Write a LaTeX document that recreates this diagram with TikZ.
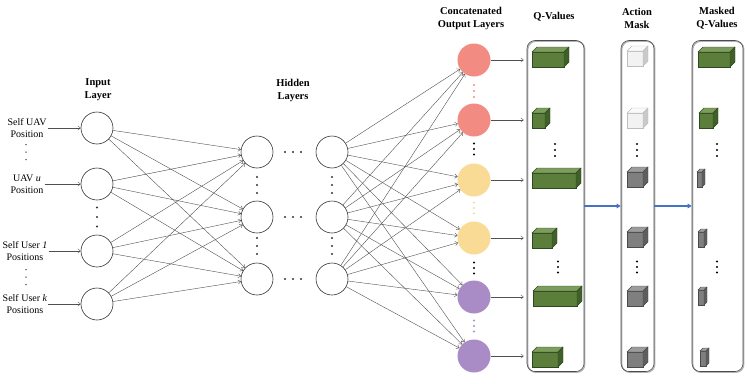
\documentclass[tikz,border=0pt]{standalone}
\usepackage{fontspec}
\setmainfont{Liberation Serif}
\usetikzlibrary{arrows.meta}
\definecolor{outred}{HTML}{F28B82}
\definecolor{outyellow}{HTML}{F9DB95}
\definecolor{outpurple}{HTML}{A98BC6}
\definecolor{linkgray}{HTML}{505050}
\definecolor{maskblue}{HTML}{4472C4}
\definecolor{qgreenF}{HTML}{5B7F3A}
\definecolor{qgreenT}{HTML}{7D9D5C}
\definecolor{qgreenS}{HTML}{405F29}
\definecolor{qgreenE}{HTML}{2E4820}
\definecolor{mgrayF}{HTML}{7F7F7F}
\definecolor{mgrayT}{HTML}{9C9C9C}
\definecolor{mgrayS}{HTML}{5E5E5E}
\definecolor{mgrayE}{HTML}{4A4A4A}
\definecolor{mwhiteF}{HTML}{F2F2F2}
\definecolor{mwhiteT}{HTML}{FAFAFA}
\definecolor{mwhiteS}{HTML}{C9C9C9}
\definecolor{mwhiteE}{HTML}{BDBDBD}
\newcommand{\cuboid}[6]{%
  \filldraw[fill=#6F,draw=#6E,line width=0.4pt] (#1,#2) rectangle ++(#3,#4);
  \filldraw[fill=#6T,draw=#6E,line width=0.4pt] (#1,#2) -- ++(#5,-#5) -- ++(#3,0) -- ++(-#5,#5) -- cycle;
  \filldraw[fill=#6S,draw=#6E,line width=0.4pt] (#1+#3,#2) -- ++(#5,-#5) -- ++(0,#4) -- ++(-#5,#5) -- cycle;}
\newcommand{\dotstack}[5][1.1pt]{%
  \foreach \dy in {-#5,0,#5} \fill[#2] (#3,#4+\dy) circle (#1);}
\begin{document}
\begin{tikzpicture}[x=1pt,y=-1pt,
  neuron/.style={circle,draw=black!80,line width=0.6pt,minimum size=32pt,inner sep=0pt},
  outneuron/.style={circle,fill=#1,minimum size=33pt,inner sep=0pt},
  inlabel/.style={align=center,font=\fontsize{10}{11.5}\selectfont,inner sep=1pt},
  headlabel/.style={align=center,font=\bfseries\fontsize{10.5}{13}\selectfont,inner sep=0pt},
  link/.style={draw=linkgray,line width=0.4pt,-{To[length=3pt,width=4.5pt]}},
  valuebox/.style={draw=black!70,rounded corners=8pt,line width=0.6pt,minimum width=#1,
    minimum height=331pt,inner sep=0pt,
    preaction={draw=black!30,line width=1.3pt,transform canvas={xshift=0.8pt,yshift=-0.8pt}}},
  maskarrow/.style={draw=maskblue,line width=1.2pt,-{Triangle[length=4pt,width=4.5pt]}}]
  \useasboundingbox (0,0) rectangle (747,383);

  \node[headlabel] (inhead) at (98,90) {Input\\Layer};
  \node[headlabel] (hidhead) at (293,90) {Hidden\\Layers};
  \node[headlabel] (outhead) at (471,18) {Concatenated\\Output Layers};
  \node[headlabel] (qhead) at (554,17) {Q-Values};
  \node[headlabel] (maskhead) at (637,18) {Action\\Mask};
  \node[headlabel] (mqhead) at (717,18) {Masked\\Q-Values};

  \foreach \n/\y in {1/128,2/184,3/251,4/304} \node[neuron] (in\n) at (97,\y) {};
  \node[inlabel] (lab1) at (27,128) {Self UAV\\Position};
  \node[inlabel] (lab2) at (27,184) {UAV \textit{u}\\Position};
  \node[inlabel] (lab3) at (25,251) {Self User \textit{1}\\Positions};
  \node[inlabel] (lab4) at (25,304) {Self User \textit{k}\\Positions};
  \foreach \n in {1,...,4} \draw[link] (lab\n.east |- in\n) -- (in\n);
  \dotstack[0.75pt]{black!80}{26}{152}{7.5}
  \dotstack[0.75pt]{black!80}{26}{277}{7.5}
  \dotstack{black!80}{97}{217}{9.5}

  \foreach \n/\y in {1/152,2/217,3/279} {
    \node[neuron] (ha\n) at (257,\y) {};
    \node[neuron] (hb\n) at (332,\y) {};
    \foreach \x in {285,293,301} \fill[black!80] (\x,\y) circle (1.1pt);
  }
  \foreach \x in {257,332} {
    \dotstack{black!80}{\x}{185}{8}
    \dotstack{black!80}{\x}{246}{8}
  }

  \foreach \n/\y/\c in {1/60/outred,2/120/outred,3/180/outyellow,4/238/outyellow,5/297/outpurple,6/356/outpurple}
    \node[outneuron=\c] (out\n) at (474,\y) {};
  \dotstack{outred}{474}{91}{6}
  \dotstack{black}{474}{149}{5.5}
  \dotstack{outyellow}{474}{208}{5.5}
  \dotstack{black}{474}{268}{5.5}
  \dotstack{outpurple}{474}{326}{5.5}

  \foreach \i in {1,...,4} \foreach \j in {1,2,3} \draw[link] (in\i) -- (ha\j);
  \foreach \i in {1,2,3} \foreach \j in {1,...,6} \draw[link] (hb\i) -- (out\j);

  \node[valuebox=57pt] (qbox) at (555.5,206) {};
  \node[valuebox=33pt] (maskbox) at (637.5,206) {};
  \node[valuebox=51pt] (mqbox) at (717.5,206) {};
  \foreach \j in {1,...,6} \draw[link,shorten >=3pt] (out\j) -- (out\j -| qbox.west);
  \draw[maskarrow] (qbox.east) -- (maskbox.west);
  \draw[maskarrow] (maskbox.east) -- (mqbox.west);

  \cuboid{532}{52}{32}{15}{5}{qgreen}
  \cuboid{532}{113}{13}{15}{5}{qgreen}
  \cuboid{532}{173}{44}{15}{5}{qgreen}
  \cuboid{532}{233}{20}{15}{5}{qgreen}
  \cuboid{533}{291}{44}{15}{5}{qgreen}
  \cuboid{532}{352}{26}{15}{5}{qgreen}
  \dotstack{black}{555}{150}{6}
  \dotstack{black}{558}{267}{5.5}

  \cuboid{627}{51}{16}{15}{5}{mwhite}
  \cuboid{627}{113}{16}{15}{5}{mwhite}
  \foreach \y in {172,232,291,352} {\cuboid{627}{\y}{16}{15}{5}{mgray}}
  \dotstack{black}{637}{150}{6}
  \dotstack{black}{637}{267}{5.5}

  \cuboid{698}{52}{32}{15}{5}{qgreen}
  \cuboid{699}{113}{14}{15}{5}{qgreen}
  \cuboid{697}{172}{5}{15}{3}{mgray}
  \cuboid{698}{232}{6}{15}{3}{mgray}
  \cuboid{698}{290}{6}{15}{3}{mgray}
  \cuboid{700}{351}{6}{15}{3}{mgray}
  \dotstack{black}{717}{150}{6}
  \dotstack{black}{717}{267}{5.5}
\end{tikzpicture}
\end{document}
